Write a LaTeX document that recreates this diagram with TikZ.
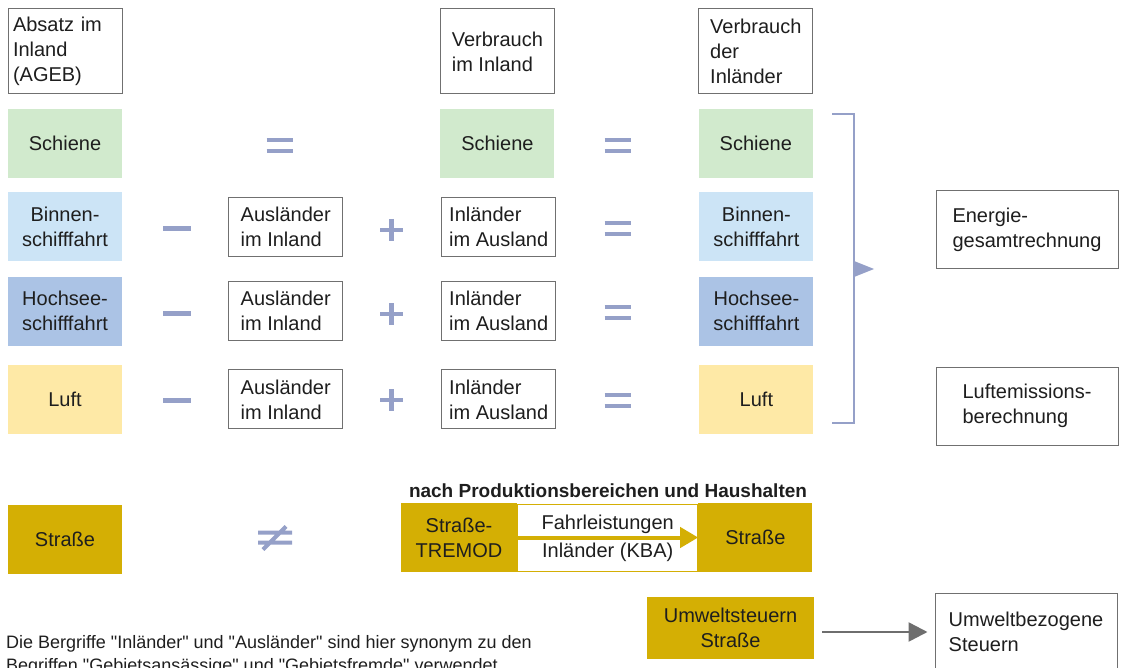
\documentclass[tikz,border=0pt]{standalone}
\usepackage{fontspec}
\setmainfont{Liberation Sans}
\usetikzlibrary{positioning, arrows.meta}
\definecolor{schienegreen}{HTML}{D1EACD}
\definecolor{binnenblue}{HTML}{CCE4F6}
\definecolor{hochseeblue}{HTML}{ABC3E5}
\definecolor{luftyellow}{HTML}{FEE9A6}
\definecolor{strassegold}{HTML}{D4AF04}
\definecolor{opcolor}{HTML}{95A0C8}
\definecolor{boxgray}{HTML}{707070}
\definecolor{arrowgray}{HTML}{6E6E6E}
\definecolor{txt}{HTML}{1E1E1E}
\tikzset{
  hdrbox/.style={rectangle, draw=boxgray, line width=1pt, fill=white, align=left, minimum width=114pt, minimum height=85pt, inner sep=0pt},
  modebox/.style={rectangle, align=center, minimum width=114pt, minimum height=69pt, inner sep=0pt},
  termbox/.style={rectangle, draw=boxgray, line width=1pt, fill=white, align=left, minimum width=114pt, minimum height=59pt, inner sep=0pt},
  targetbox/.style={rectangle, draw=boxgray, line width=1pt, fill=white, align=left, minimum width=182pt, minimum height=78pt, inner sep=0pt},
  goldarrow/.style={draw=strassegold, line width=4pt, -{Triangle[length=18pt,width=20pt]}},
  grayarrow/.style={draw=arrowgray, line width=2.5pt, -{Triangle[length=19pt,width=19pt]}, shorten <=8pt, shorten >=7pt},
  pics/opminus/.style={code={\draw[opcolor, line width=5pt] (-14,0) -- (14,0);}},
  pics/opplus/.style={code={\draw[opcolor, line width=4.5pt] (-11.5,0) -- (11.5,0) (0,-11) -- (0,11);}},
  pics/opeq/.style={code={\draw[opcolor, line width=4pt] (-13,-5.5) -- (13,-5.5) (-13,5.5) -- (13,5.5);}},
  pics/opneq/.style={code={\draw[opcolor, line width=4pt] (-17,-5) -- (17,-5) (-17,5) -- (17,5) (-12,12) -- (11,-11);}}
}
\begin{document}
\begin{tikzpicture}[x=1pt, y=-1pt, every node/.style={font=\fontsize{20}{25}\selectfont, text=txt}]
        \clip (0,0) rectangle (1121,668);

        % Spalte 1: Absatz im Inland
        \node (absatz) [hdrbox, text width=104pt] at (65,51.5) {Absatz im\\Inland\\(AGEB)};
        \node (schiene1) [modebox, fill=schienegreen, below=14pt of absatz] {Schiene};
        \node (binnen1) [modebox, fill=binnenblue, below=14pt of schiene1] {Binnen-\\schifffahrt};
        \node (hochsee1) [modebox, fill=hochseeblue, below=15pt of binnen1] {Hochsee-\\schifffahrt};
        \node (luft1) [modebox, fill=luftyellow, below=19pt of hochsee1] {Luft};
        \node (strasse1) [modebox, fill=strassegold, below=71pt of luft1] {Straße};

        % Spalte 2: Auslaender im Inland
        \node (ausl1) [termbox, right=106pt of binnen1] {Ausländer\\im Inland};
        \node (ausl2) [termbox, right=106pt of hochsee1] {Ausländer\\im Inland};
        \node (ausl3) [termbox, right=106pt of luft1] {Ausländer\\im Inland};

        % Spalte 3: Verbrauch im Inland
        \node (schiene3) [modebox, fill=schienegreen, right=318pt of schiene1] {Schiene};
        \node (verbrauch) [hdrbox, above=14pt of schiene3] {Verbrauch\\im Inland};
        \node (inl1) [termbox, right=98pt of ausl1] {Inländer\\im Ausland};
        \node (inl2) [termbox, right=98pt of ausl2] {Inländer\\im Ausland};
        \node (inl3) [termbox, right=98pt of ausl3] {Inländer\\im Ausland};

        % Spalte 4: Verbrauch der Inlaender
        \node (schiene4) [modebox, fill=schienegreen, right=144pt of schiene3] {Schiene};
        \node (verbrinl) [hdrbox, above=14pt of schiene4] {Verbrauch\\der\\Inländer};
        \node (binnen4) [modebox, fill=binnenblue, right=143pt of inl1] {Binnen-\\schifffahrt};
        \node (hochsee4) [modebox, fill=hochseeblue, right=143pt of inl2] {Hochsee-\\schifffahrt};
        \node (luft4) [modebox, fill=luftyellow, right=143pt of inl3] {Luft};

        % Rechenzeichen
        \pic at (279.5,145.5) {opeq};
        \pic at (617.5,145.5) {opeq};
        \pic at (177,229) {opminus};
        \pic at (177,313) {opminus};
        \pic at (177,400) {opminus};
        \pic at (391.5,230) {opplus};
        \pic at (391.5,314) {opplus};
        \pic at (391.5,400) {opplus};
        \pic at (617.5,228.5) {opeq};
        \pic at (617.5,312.5) {opeq};
        \pic at (617.5,400) {opeq};
        \pic at (275,537.5) {opneq};

        % Klammer mit Pfeil zu den Rechenwerken
        \coordinate (brtop) at (832,114);
        \coordinate (brbot) at (832,423);
        \coordinate (brtip) at (874,269);
        \draw [opcolor, line width=2pt] (brtop) -- ++(22,0) |- (brbot);
        \fill [opcolor] (854,261) -- (brtip) -- (854,277) -- cycle;

        \node (energie) [targetbox] at (1027,229.5) {Energie-\\gesamtrechnung};
        \node (luftemi) [targetbox] at (1027,406) {Luftemissions-\\berechnung};

        % Strasse nach TREMOD
        \node (heading) [font=\bfseries\fontsize{19}{22}\selectfont, anchor=base, inner sep=0pt] at (608,497) {nach Produktionsbereichen und Haushalten};
        \node (tremod) [modebox, fill=strassegold, minimum width=116pt] at (459,537.5) {Straße-\\TREMOD};
        \node (fahrbox) [rectangle, draw=strassegold, line width=1pt, minimum width=180pt, minimum height=67pt, inner sep=0pt, right=0pt of tremod] {};
        \node (strasse4) [modebox, fill=strassegold, right=0pt of fahrbox] {Straße};
        \draw [goldarrow] (fahrbox.west) -- node[anchor=base, inner sep=0pt, yshift=8pt] {Fahrleistungen} node[anchor=base, inner sep=0pt, yshift=-20pt] {Inländer (KBA)} (fahrbox.east);

        % Umweltsteuern
        \node (umwelt) [modebox, fill=strassegold, minimum width=167pt, minimum height=62pt] at (730.5,628) {Umweltsteuern\\Straße};
        \node (steuern) [targetbox] at (1026,632) {Umweltbezogene\\Steuern};
        \draw [grayarrow] (umwelt.east |- steuern.west) -- (steuern.west);

        % Fussnote
        \node (note) [anchor=north west, align=left, inner sep=0pt, font=\fontsize{18}{23}\selectfont] at (6,635) {Die Bergriffe \textquotedbl Inländer\textquotedbl{} und \textquotedbl Ausländer\textquotedbl{} sind hier synonym zu den\\Begriffen \textquotedbl Gebietsansässige\textquotedbl{} und \textquotedbl Gebietsfremde\textquotedbl{} verwendet};

    \end{tikzpicture}
\end{document}
